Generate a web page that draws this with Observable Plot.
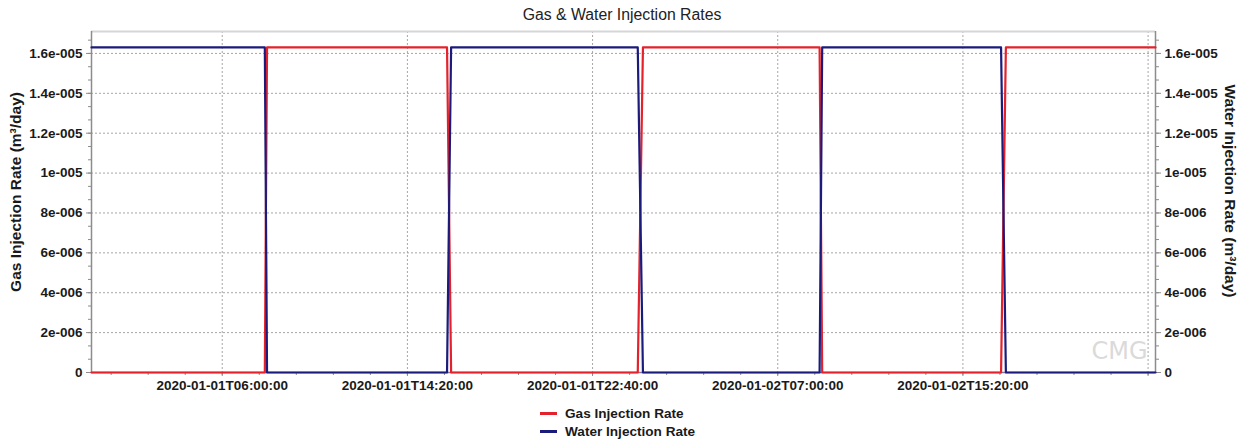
<!DOCTYPE html>
<html>
<head>
<meta charset="utf-8">
<script src="https://cdn.jsdelivr.net/npm/d3@7"></script>
<script src="https://cdn.jsdelivr.net/npm/@observablehq/plot@0.6"></script>
<style>
  html, body { margin: 0; padding: 0; background: #fff; }
  body { width: 1248px; height: 441px; position: relative; overflow: hidden; font-family: "Liberation Sans", Arial, sans-serif; }
  #title { position: absolute; top: 5px; left: 0; width: 1244px; text-align: center; font-size: 15.8px; color: #222; line-height: 20px; }
  #chart { position: absolute; top: 26px; left: 0; }
  #legend { position: absolute; left: 540px; top: 405px; font-size: 13.6px; font-weight: bold; color: #1a1a1a; }
  .row { height: 18px; line-height: 18px; white-space: nowrap; }
  .sw { display: inline-block; width: 17px; height: 3px; vertical-align: middle; margin-right: 8px; position: relative; top: -1px; }
</style>
</head>
<body>
<div id="title"></div>
<div id="chart"></div>
<div id="legend"></div>
<script>
// ---- data ----
const chartTitle = "Gas & Water Injection Rates";
const seriesNames = ["Gas Injection Rate", "Water Injection Rate"];
const seriesColors = ["#e4222b", "#1b1b7c"];
const yLabelLeft = "Gas Injection Rate (m³/day)";
const yLabelRight = "Water Injection Rate (m³/day)";

const times = [
  "2020-01-01T00:07:00Z", "2020-01-01T07:55:00Z", "2020-01-01T08:01:00Z",
  "2020-01-01T16:07:00Z", "2020-01-01T16:18:00Z", "2020-01-02T00:42:00Z",
  "2020-01-02T00:56:00Z", "2020-01-02T08:53:00Z", "2020-01-02T09:00:00Z",
  "2020-01-02T17:03:00Z", "2020-01-02T17:16:00Z", "2020-01-03T00:00:00Z"
];
const gasRate   = [0, 0, 1.63e-5, 1.63e-5, 0, 0, 1.63e-5, 1.63e-5, 0, 0, 1.63e-5, 1.63e-5];
const waterRate = [1.63e-5, 1.63e-5, 0, 0, 1.63e-5, 1.63e-5, 0, 0, 1.63e-5, 1.63e-5, 0, 0];

const yTicks = [0, 2e-6, 4e-6, 6e-6, 8e-6, 1e-5, 1.2e-5, 1.4e-5, 1.6e-5];
const yTickLabels = ["0", "2e-006", "4e-006", "6e-006", "8e-006", "1e-005", "1.2e-005", "1.4e-005", "1.6e-005"];
const xTicks = ["2020-01-01T06:00:00Z", "2020-01-01T14:20:00Z", "2020-01-01T22:40:00Z", "2020-01-02T07:00:00Z", "2020-01-02T15:20:00Z", "2020-01-02T23:40:00Z"];
const xTickLabels = ["2020-01-01T06:00:00", "2020-01-01T14:20:00", "2020-01-01T22:40:00", "2020-01-02T07:00:00", "2020-01-02T15:20:00", ""];
const xStart = new Date("2020-01-01T00:07:00Z");
const xEnd = new Date("2020-01-03T00:00:00Z");
const yMax = 1.71e-5;

// ---- derived ----
const xTickDates = xTicks.map(s => new Date(s));
const minorStep = 100 * 60 * 1000;
const xMinor = d3.range(xTickDates[0].getTime() - 3 * minorStep, xEnd.getTime(), minorStep).map(t => new Date(t));
const yMinor = d3.range(0, 1.71e-5, 2e-6 / 3);

const table = [];
times.forEach((t, i) => {
  table.push({t: new Date(t), v: gasRate[i], s: seriesNames[0]});
});
times.forEach((t, i) => {
  table.push({t: new Date(t), v: waterRate[i], s: seriesNames[1]});
});

const fmtY = d => { const i = yTicks.findIndex(v => Math.abs(v - d) < 1e-12); return i >= 0 ? yTickLabels[i] : ""; };
const fmtX = d => { const i = xTickDates.findIndex(v => v.getTime() === d.getTime()); return i >= 0 ? xTickLabels[i] : ""; };

const axisStroke = "#8c8c8c";
const gridStyle = {stroke: "#a6a6a6", strokeOpacity: 1, strokeDasharray: "2,2", strokeWidth: 1};

const chart = Plot.plot({
  width: 1248,
  height: 380,
  marginTop: 5,
  marginBottom: 34,
  marginLeft: 91,
  marginRight: 93,
  style: {fontFamily: "'Liberation Sans', Arial, sans-serif", fontSize: "13.5px", fontWeight: "bold", color: "#1a1a1a", background: "white", overflow: "visible"},
  x: {type: "utc", domain: [xStart, xEnd]},
  y: {domain: [0, yMax]},
  color: {domain: seriesNames, range: seriesColors},
  marks: [
    Plot.gridY(yTicks.slice(1), gridStyle),
    Plot.gridX(xTickDates, gridStyle),
    Plot.ruleY([yMax], {stroke: "#d6d6d6", strokeWidth: 2}),
    Plot.ruleX([xStart], {stroke: axisStroke, strokeWidth: 1.5}),
    Plot.ruleX([xEnd], {stroke: axisStroke, strokeWidth: 1.5}),
    Plot.ruleY([0], {stroke: "#7b7fa6", strokeWidth: 1.5}),
    Plot.axisY(yMinor, {anchor: "left", tickSize: 3, tickFormat: () => "", label: null, stroke: axisStroke}),
    Plot.axisY(yMinor, {anchor: "right", tickSize: 3, tickFormat: () => "", label: null, stroke: axisStroke}),
    Plot.axisY(yTicks, {anchor: "left", tickSize: 5, tickPadding: 4, tickFormat: fmtY, label: null, stroke: axisStroke}),
    Plot.axisY(yTicks, {anchor: "right", tickSize: 5, tickPadding: 4, tickFormat: fmtY, label: null, stroke: axisStroke}),
    Plot.axisX(xMinor, {anchor: "bottom", tickSize: 3, tickFormat: () => "", label: null, stroke: axisStroke}),
    Plot.axisX(xTickDates, {anchor: "bottom", tickSize: 4, tickPadding: 4, tickFormat: fmtX, label: null, stroke: axisStroke}),
    Plot.text(["CMG"], {text: d => d, frameAnchor: "bottom-right", dx: -36, dy: -21, fontSize: 24, fontWeight: "normal", fill: "#dadada", fontFamily: "'DejaVu Sans', sans-serif", textAnchor: "middle", lineAnchor: "middle"}),
    Plot.line(table, {x: "t", y: "v", z: "s", stroke: "s", strokeWidth: 2.2}),
    Plot.text([yLabelLeft], {text: d => d, frameAnchor: "left", textAnchor: "middle", lineAnchor: "middle", dx: -75, dy: -10, rotate: -90, fontSize: 15.5, fontWeight: "bold", fill: "#1a1a1a"}),
    Plot.text([yLabelRight], {text: d => d, frameAnchor: "right", textAnchor: "middle", lineAnchor: "middle", dx: 74, dy: -11, rotate: 90, fontSize: 15.5, fontWeight: "bold", fill: "#1a1a1a"})
  ]
});
document.getElementById("chart").appendChild(chart);
document.getElementById("title").textContent = chartTitle;
const legend = document.getElementById("legend");
seriesNames.forEach((n, i) => {
  const row = document.createElement("div");
  row.className = "row";
  const sw = document.createElement("span");
  sw.className = "sw";
  sw.style.background = seriesColors[i];
  row.appendChild(sw);
  row.appendChild(document.createTextNode(n));
  legend.appendChild(row);
});
</script>
</body>
</html>
